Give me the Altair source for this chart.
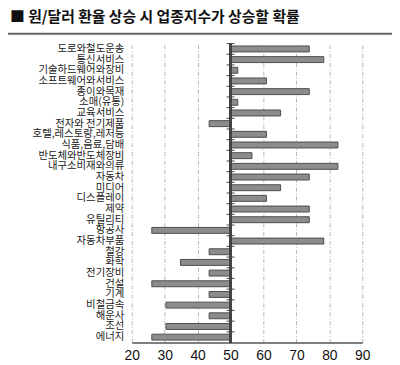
import altair as alt
import pandas as pd

title_text = "■ 원/달러 환율 상승 시 업종지수가 상승할 확률"

categories = [
    "도로와철도운송", "통신서비스", "기술하드웨어와장비", "소프트웨어와서비스",
    "종이와목재", "소매(유통)", "교육서비스", "전자와 전기제품",
    "호텔,레스토랑,레저등", "식품,음료,담배", "반도체와반도체장비", "내구소비재와의류",
    "자동차", "미디어", "디스플레이", "제약", "유틸리티", "항공사", "자동차부품",
    "철강", "화학", "전기장비", "건설", "기계", "비철금속", "해운사", "조선", "에너지",
]
values = [
    73.9, 78.3, 52.2, 60.9,
    73.9, 52.2, 65.2, 43.5,
    60.9, 82.6, 56.5, 82.6,
    73.9, 65.2, 60.9, 73.9, 73.9, 26.1, 78.3,
    43.5, 34.8, 43.5, 26.1, 43.5, 30.4, 43.5, 30.4, 26.1,
]
x_ticks = [20, 30, 40, 50, 60, 70, 80, 90]

df = pd.DataFrame({"cat": categories, "val": values})

W, H = 233, 302
ysc = alt.Scale(domain=categories, paddingInner=0.0, paddingOuter=0.0)
xsc = alt.Scale(domain=[20, 90], nice=False, zero=False)

x_axis = alt.Axis(values=x_ticks, title=None, grid=True, gridColor="#b5b5b5",
                  gridDash=[4, 2, 1, 2], gridWidth=1, ticks=False,
                  domainColor="#555555", domainWidth=1.5,
                  labelFont="Liberation Sans", labelFontSize=14,
                  labelColor="#111111", labelPadding=6,
                  labelOverlap=False, labelFlush=False)

base = alt.Chart(df)

bars = base.mark_bar(size=6, color="#8c8c8c", stroke="#4d4d4d", strokeWidth=1).encode(
    x=alt.X("val:Q", scale=xsc, axis=x_axis),
    x2=alt.datum(50),
    y=alt.Y("cat:N", sort=None, scale=ysc,
            axis=alt.Axis(title=None, ticks=False, domain=False, grid=False,
                          labelFont="Noto Sans CJK KR", labelFontSize=10.5,
                          labelColor="#1a1a1a", labelPadding=8,
                          labelOverlap=False)),
)

axis50 = base.mark_rule(color="#444444", strokeWidth=1.5).encode(
    x=alt.X(datum=50, scale=xsc, axis=x_axis)
)

ticks50 = base.mark_rule(color="#444444", strokeWidth=1, xOffset=-4, x2Offset=4).encode(
    x=alt.X(datum=50, scale=xsc, axis=x_axis),
    x2=alt.datum(50),
    y=alt.Y("cat:N", sort=None, scale=ysc, bandPosition=0),
)

title_df = pd.DataFrame({"t": [title_text]})
title = alt.Chart(title_df).mark_text(
    align="left", baseline="middle", fontSize=15, fontWeight="bold",
    font="Noto Sans CJK KR", color="#111111"
).encode(text="t:N", x=alt.value(-123), y=alt.value(-27))

line = alt.Chart(title_df).mark_rule(color="#666666", strokeWidth=2).encode(
    x=alt.value(-125), x2=alt.value(263), y=alt.value(-10)
)

chart = alt.layer(bars, axis50, ticks50, title, line).properties(
    width=W, height=H,
    autosize=alt.AutoSizeParams(type="none"),
    padding={"left": 125, "top": 34, "right": 30, "bottom": 40},
).configure_view(stroke=None).configure_axisX(labelOverlap=False)

chart.save("out.html", embed_options={"renderer": "svg", "actions": False})
